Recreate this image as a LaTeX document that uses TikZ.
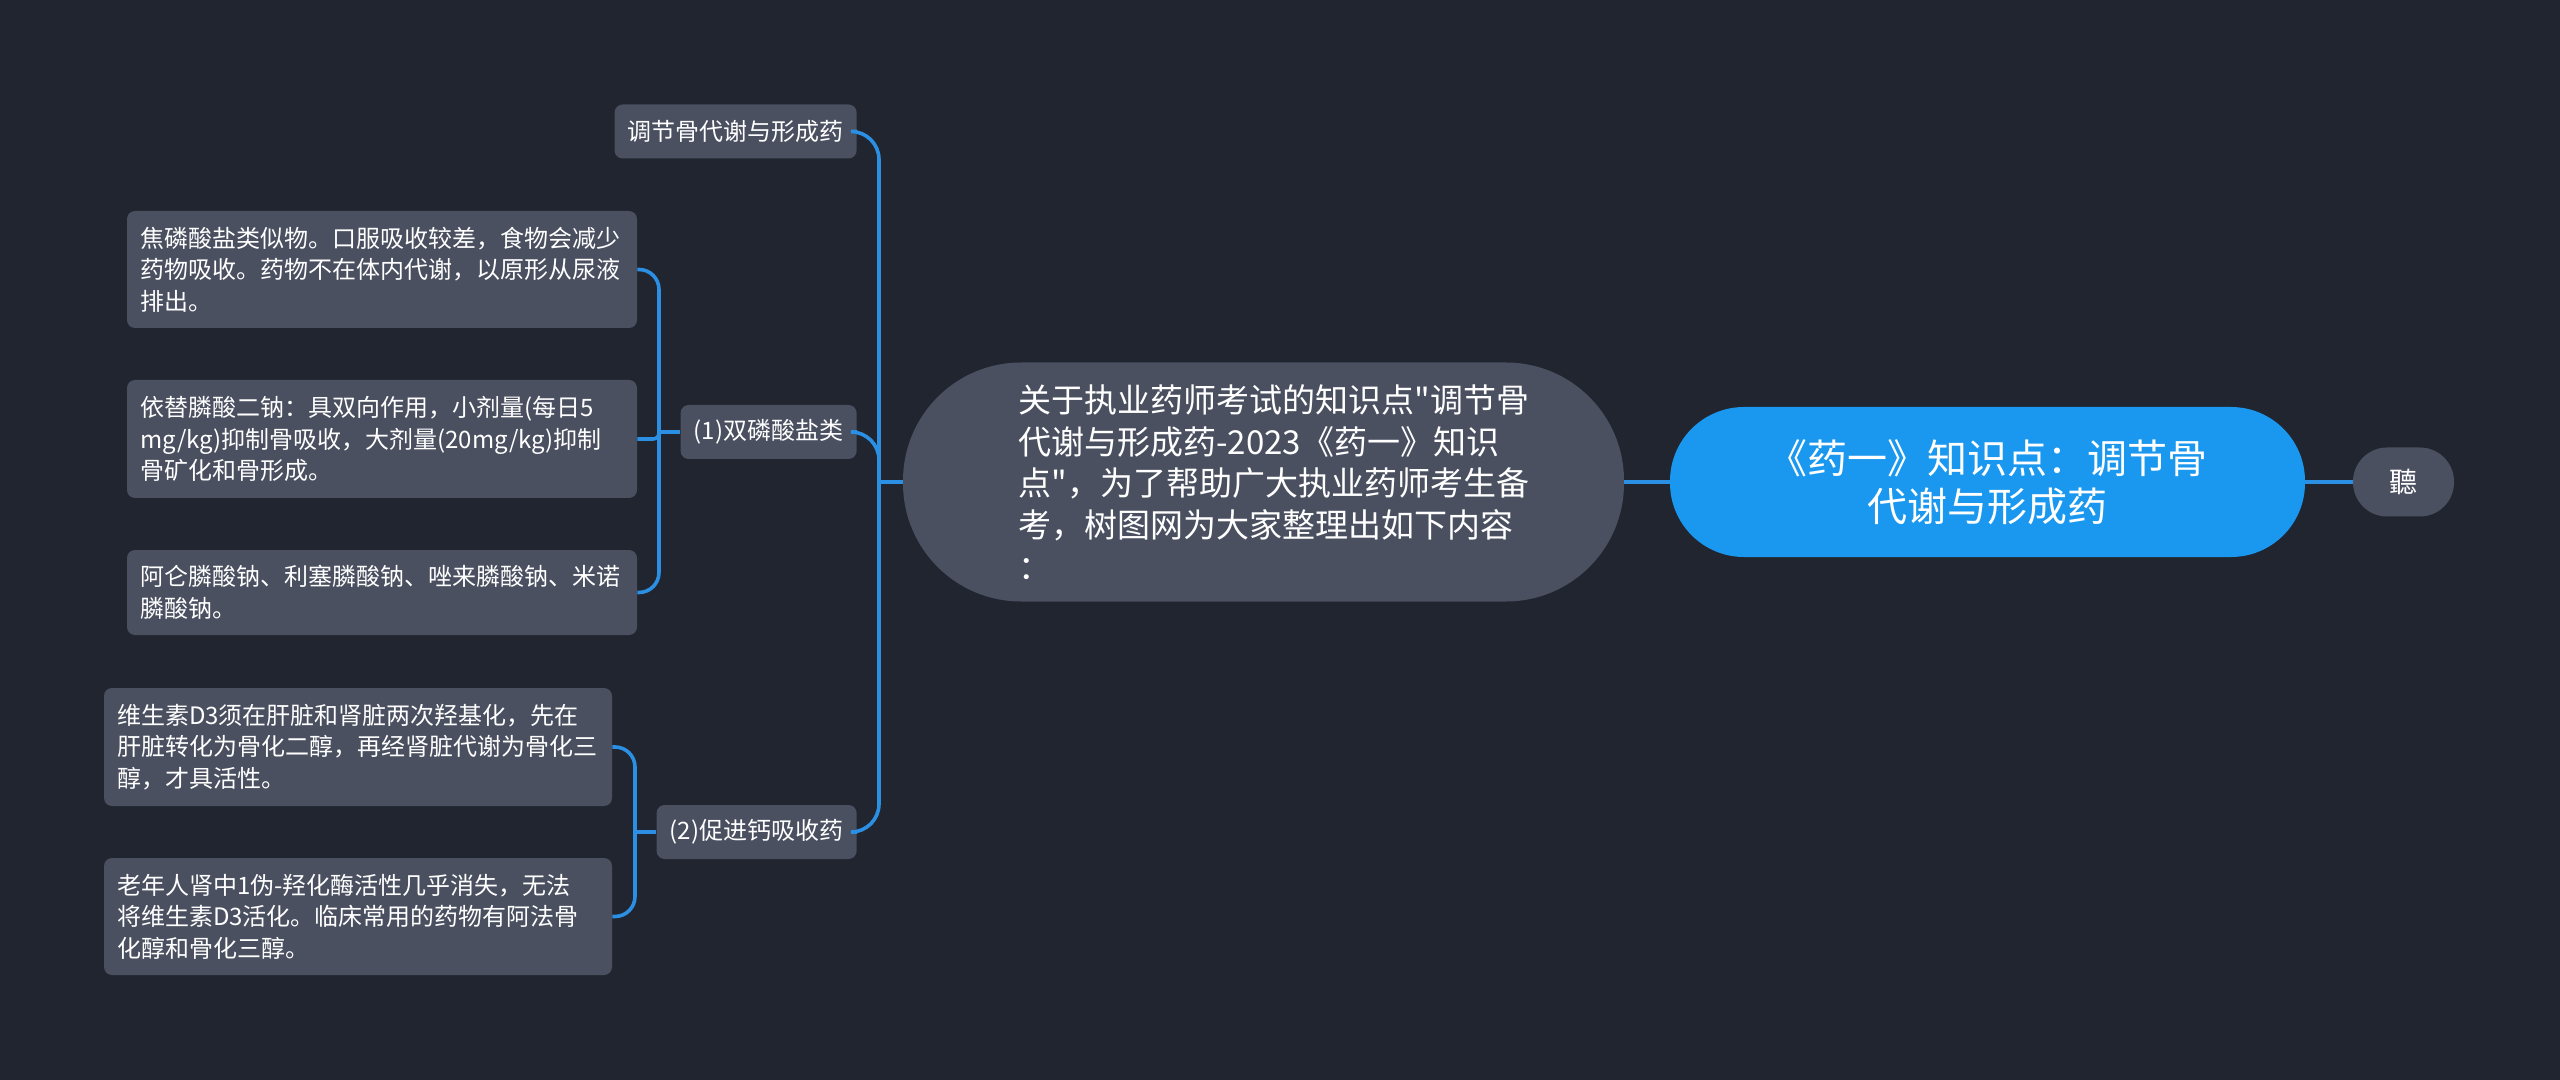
\documentclass[tikz,border=0pt]{standalone}
\usepackage{fontspec}
\newfontfamily\cjk{Noto Sans CJK SC}
\definecolor{bg}{HTML}{21252F}
\definecolor{box}{HTML}{4A5060}
\definecolor{rootblue}{HTML}{1A98F0}
\definecolor{conn}{HTML}{2B8FE4}
\tikzset{
  leaf/.style={draw=none, fill=box, rounded corners=4pt, inner xsep=6.5pt, inner ysep=0pt,
    align=left, text=white, anchor=center,
    font=\cjk\fontsize{12pt}{15.8pt}\selectfont},
  mid/.style={draw=none, fill=box, rounded corners=4pt, inner sep=0pt, text=white,
    minimum height=27pt, anchor=east, font=\cjk\fontsize{12pt}{15pt}\selectfont},
  link/.style={draw=conn, line width=1.8pt},
}
\begin{document}
\begin{tikzpicture}[x=0.5pt,y=-0.5pt]
\fill[bg] (0,0) rectangle (2560,1080);
\useasboundingbox (0,0) rectangle (2560,1080);

% root and right
\node[fill=rootblue, rounded corners=37pt, minimum width=317.5pt, minimum height=75pt, inner sep=0pt,
  text=white, align=center, font=\cjk\fontsize{20pt}{24pt}\selectfont] (root) at (1987.5,482)
  {《药一》知识点：调节骨\\代谢与形成药};
\node[fill=box, rounded corners=17pt, minimum width=50.5pt, minimum height=34.5pt, inner sep=0pt,
  text=white, font=\cjk\fontsize{14pt}{16pt}\selectfont] (ting) at (2403.5,482) {聽};

% center
\node[fill=box, rounded corners=59pt, minimum width=360.5pt, minimum height=119.5pt, inner sep=0pt,
  text=white, align=left, text width=245pt, font=\cjk\fontsize{16.5pt}{20.8pt}\selectfont] (c) at (1263.5,482)
  {关于执业药师考试的知识点"调节骨\\代谢与形成药-2023《药一》知识\\点"，为了帮助广大执业药师考生备\\考，树图网为大家整理出如下内容\\：};

% middle level
\node[mid, minimum width=121pt] (m0) at (857,131.5) {调节骨代谢与形成药};
\node[mid, minimum width=88pt] (m1) at (857,432) {(1)双磷酸盐类};
\node[mid, minimum width=100pt] (m2) at (857,832) {(2)促进钙吸收药};

% leaves
\node[leaf, text width=242pt, minimum height=58.5pt] (l1) at (382,269.5)
  {焦磷酸盐类似物。口服吸收较差，食物会减少\\药物吸收。药物不在体内代谢，以原形从尿液\\排出。};
\node[leaf, text width=242pt, minimum height=59pt] (l2) at (382,439)
  {依替膦酸二钠：具双向作用，小剂量(每日5\\mg/kg)抑制骨吸收，大剂量(20mg/kg)抑制\\骨矿化和骨形成。};
\node[leaf, text width=242pt, minimum height=42.5pt] (l3) at (382,592.5)
  {阿仑膦酸钠、利塞膦酸钠、唑来膦酸钠、米诺\\膦酸钠。};
\node[leaf, text width=241pt, minimum height=59pt] (l4) at (358,747)
  {维生素D3须在肝脏和肾脏两次羟基化，先在\\肝脏转化为骨化二醇，再经肾脏代谢为骨化三\\醇，才具活性。};
\node[leaf, text width=241pt, minimum height=58.5pt] (l5) at (358,916.5)
  {老年人肾中1伪-羟化酶活性几乎消失，无法\\将维生素D3活化。临床常用的药物有阿法骨\\化醇和骨化三醇。};

% bus coordinates
\coordinate (b0) at (879,482);
\coordinate (b1) at (659,432);
\coordinate (b2) at (635,832);

% connectors
\draw[link] (root.east) -- (ting.west);
\draw[link] (c.east) -- (root.west);
\draw[link] (c.west) -- (b0);
\draw[link, rounded corners=14pt] (b0) |- (m0.east);
\draw[link, rounded corners=14pt] (b0) |- (m1.east);
\draw[link, rounded corners=14pt] (b0) |- (m2.east);

\draw[link] (m1.west) -- (b1);
\draw[link, rounded corners=10pt] (b1) |- (l1.east);
\draw[link, rounded corners=3pt] (b1) |- (l2.east);
\draw[link, rounded corners=10pt] (b1) |- (l3.east);

\draw[link] (m2.west) -- (b2);
\draw[link, rounded corners=10pt] (b2) |- (l4.east);
\draw[link, rounded corners=10pt] (b2) |- (l5.east);
\end{tikzpicture}
\end{document}
